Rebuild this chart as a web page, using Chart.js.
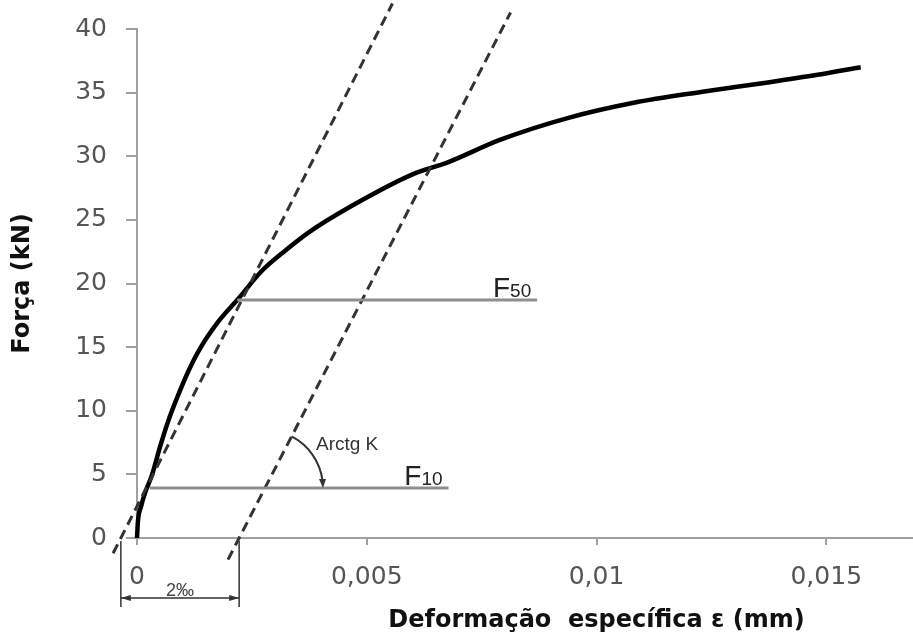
<!DOCTYPE html>
<html>
<head>
<meta charset="utf-8">
<script src="https://cdn.jsdelivr.net/npm/chart.js@4.4.1/dist/chart.umd.min.js"></script>
<style>
  html, body { margin: 0; padding: 0; background: #fff; overflow: hidden; }
  /* the chart runs on past the right edge of the window, as in the cropped original */
  #wrap { width: 1056px; height: 636px; }
</style>
</head>
<body>
<div id="wrap"><canvas id="chart"></canvas></div>
<script>
// strain (mm) and force (kN)
const curveX = [0, 0.00002, 0.00009, 0.00017, 0.00033, 0.0005, 0.00068, 0.00087, 0.00111,
  0.00139, 0.00179, 0.00218, 0.00272, 0.00323, 0.00377, 0.00492, 0.00601, 0.00675,
  0.00791, 0.00937, 0.01081, 0.01227, 0.01373, 0.01481, 0.01575];
const curveY = [0, 1.3, 2.5, 3.5, 5.0, 7.15, 9.2, 11.0, 13.05,
  15.0, 17.1, 18.7, 21.0, 22.6, 24.1, 26.6, 28.6, 29.5,
  31.3, 33.0, 34.2, 35.05, 35.8, 36.4, 37.0];

// dashed tangent near the origin and its parallel offset by 2 per mille
const tangentX = [-0.00052, 0.00556];
const tangentY = [-1.2, 42.0];
const parallelX = [0.00198, 0.00813];
const parallelY = [-1.7, 41.3];

// horizontal force levels
const f10X = [0.00028, 0.00678];
const f10Y = 3.93;
const f50X = [0.00218, 0.00871];
const f50Y = 18.7;

const xTicks = [0, 0.005, 0.01, 0.015];
const yTicks = [0, 5, 10, 15, 20, 25, 30, 35, 40];

const toPts = (xs, ys) => xs.map((x, i) => ({ x: x, y: Array.isArray(ys) ? ys[i] : ys }));

const xAtForce = (xs, ys, f) => xs[0] + (f - ys[0]) * (xs[1] - xs[0]) / (ys[1] - ys[0]);

const annotations = {
  id: 'annotations',
  afterDatasetsDraw(chart) {
    const ctx = chart.ctx;
    const xs = chart.scales.x, ys = chart.scales.y;
    const area = chart.chartArea;
    ctx.save();

    // F labels, right aligned near the end of each level line
    function fLabel(x, y, sub) {
      ctx.fillStyle = '#222';
      ctx.textBaseline = 'alphabetic';
      ctx.font = '19px "Liberation Sans", Arial, sans-serif';
      const sw = ctx.measureText(sub).width;
      ctx.font = '28px "Liberation Sans", Arial, sans-serif';
      const fw = ctx.measureText('F').width;
      const right = xs.getPixelForValue(x) - 6;
      const base = ys.getPixelForValue(y) - 3;
      ctx.textAlign = 'left';
      ctx.fillText('F', right - sw - fw, base);
      ctx.font = '19px "Liberation Sans", Arial, sans-serif';
      ctx.fillText(sub, right - sw, base);
    }
    fLabel(f10X[1], f10Y, '10');
    fLabel(f50X[1], f50Y, '50');

    // angle arc between the parallel line and the F10 level
    const cx = xs.getPixelForValue(xAtForce(parallelX, parallelY, f10Y));
    const cy = ys.getPixelForValue(f10Y);
    const topX = xs.getPixelForValue(parallelX[1]), topY = ys.getPixelForValue(parallelY[1]);
    const ang = Math.atan2(topY - cy, topX - cx);
    const r = 58;
    ctx.strokeStyle = '#333';
    ctx.lineWidth = 2;
    ctx.beginPath();
    ctx.arc(cx, cy, r, ang, -0.12, false);
    ctx.stroke();
    ctx.fillStyle = '#333';
    ctx.beginPath();
    ctx.moveTo(cx + r, cy);
    ctx.lineTo(cx + r - 4, cy - 9);
    ctx.lineTo(cx + r + 3, cy - 9);
    ctx.closePath();
    ctx.fill();
    ctx.font = '19px "Liberation Sans", Arial, sans-serif';
    ctx.textAlign = 'left';
    ctx.fillText('Arctg K', cx + 51, cy - 38);

    // 2 per mille bracket under the axis
    const x0 = xs.getPixelForValue(xAtForce(tangentX, tangentY, 0));
    const x1 = xs.getPixelForValue(xAtForce(parallelX, parallelY, 0));
    const b = area.bottom;
    ctx.strokeStyle = '#333';
    ctx.lineWidth = 1.5;
    ctx.beginPath();
    ctx.moveTo(x0, b + 3); ctx.lineTo(x0, b + 69);
    ctx.moveTo(x1, b + 3); ctx.lineTo(x1, b + 69);
    ctx.moveTo(x0, b + 60); ctx.lineTo(x1, b + 60);
    ctx.stroke();
    ctx.beginPath();
    ctx.moveTo(x0, b + 60); ctx.lineTo(x0 + 10, b + 57); ctx.lineTo(x0 + 10, b + 63); ctx.closePath();
    ctx.moveTo(x1, b + 60); ctx.lineTo(x1 - 10, b + 57); ctx.lineTo(x1 - 10, b + 63); ctx.closePath();
    ctx.fill();
    ctx.font = '18px "Liberation Sans", Arial, sans-serif';
    ctx.textAlign = 'center';
    ctx.fillStyle = '#444';
    ctx.fillText('2‰', (x0 + x1) / 2, b + 58);

    ctx.restore();
  }
};

new Chart(document.getElementById('chart'), {
  type: 'scatter',
  data: {
    datasets: [
      {
        data: toPts(f10X, f10Y), showLine: true, borderColor: '#8e8e8e', borderWidth: 3,
        pointRadius: 0, clip: false
      },
      {
        data: toPts(f50X, f50Y), showLine: true, borderColor: '#8e8e8e', borderWidth: 3,
        pointRadius: 0, clip: false
      },
      {
        data: toPts(tangentX, tangentY), showLine: true, borderColor: '#333', borderWidth: 3,
        borderDash: [10, 6], pointRadius: 0, clip: false
      },
      {
        data: toPts(parallelX, parallelY), showLine: true, borderColor: '#333', borderWidth: 3,
        borderDash: [10, 6], pointRadius: 0, clip: false
      },
      {
        data: toPts(curveX, curveY), showLine: true, borderColor: '#000', borderWidth: 4.5,
        pointRadius: 0, cubicInterpolationMode: 'monotone', clip: false
      }
    ]
  },
  options: {
    responsive: true,
    maintainAspectRatio: false,
    animation: false,
    layout: { padding: { top: 29, right: 0, left: 0, bottom: 0 } },
    plugins: { legend: { display: false }, tooltip: { enabled: false } },
    scales: {
      x: {
        type: 'linear',
        min: 0,
        max: 0.02,
        afterBuildTicks: (s) => { s.ticks = xTicks.map(v => ({ value: v })); },
        afterFit: (s) => { s.height = 98; },
        border: { color: '#a0a0a0', width: 2 },
        grid: { drawOnChartArea: false, drawTicks: true, tickLength: 7, color: '#a0a0a0', lineWidth: 2 },
        ticks: {
          padding: 17,
          color: '#555',
          font: { family: '"DejaVu Sans", Verdana, sans-serif', size: 25 },
          callback: (v) => String(v).replace('.', ',')
        },
        title: {
          display: true,
          text: 'Deformação  específica ε (mm)',
          color: '#111',
          font: { family: '"DejaVu Sans", Verdana, sans-serif', size: 24, weight: 'bold' },
          padding: { top: 0, bottom: 1 }
        }
      },
      y: {
        type: 'linear',
        min: 0,
        max: 40,
        afterBuildTicks: (s) => { s.ticks = yTicks.map(v => ({ value: v })); },
        afterFit: (s) => { s.width = 137; s.paddingTop = 0; },
        border: { color: '#a0a0a0', width: 2 },
        grid: { drawOnChartArea: false, drawTicks: true, tickLength: 11, color: '#a0a0a0', lineWidth: 2 },
        ticks: {
          padding: 19,
          color: '#555',
          font: { family: '"DejaVu Sans", Verdana, sans-serif', size: 25 }
        },
        title: {
          display: true,
          text: 'Força (kN)',
          color: '#111',
          font: { family: '"DejaVu Sans", Verdana, sans-serif', size: 24, weight: 'bold' },
          padding: { top: 8, bottom: 0 }
        }
      }
    }
  },
  plugins: [annotations]
});
</script>
</body>
</html>
